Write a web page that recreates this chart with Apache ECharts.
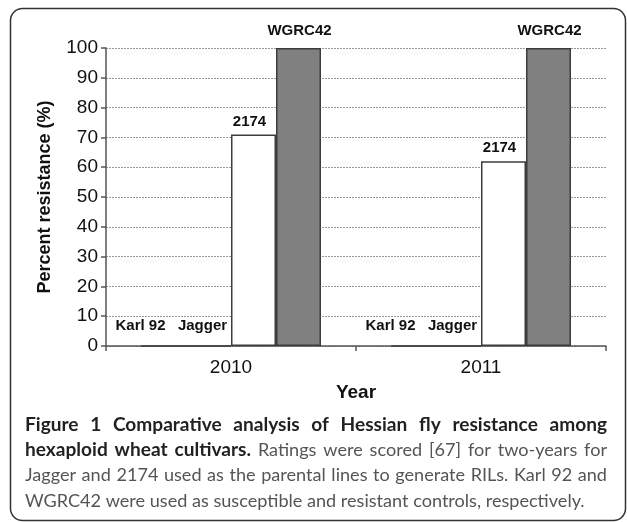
<!DOCTYPE html>
<html>
<head>
<meta charset="utf-8">
<script src="https://cdn.jsdelivr.net/npm/echarts@6/dist/echarts.min.js"></script>
<style>
html,body{margin:0;padding:0;background:#fff;}
#chart{width:627px;height:522px;}
</style>
</head>
<body>
<div id="chart"></div>
<script>
var years = ['2010', '2011'];
var karl92 = [0, 0];
var jagger = [0, 0];
var line2174 = [71, 62];
var wgrc42 = [100, 100];
var yTicks = {min: 0, max: 100, interval: 10};
var yTitle = 'Percent resistance (%)';
var xTitle = 'Year';
var captionLines = [
  [{b: 'Figure 1 Comparative analysis of Hessian fly resistance among'}],
  [{b: 'hexaploid wheat cultivars.'}, {n: 'Ratings were scored [67] for two-years for'}],
  [{n: 'Jagger and 2174 used as the parental lines to generate RILs. Karl 92 and'}],
  [{n: 'WGRC42 were used as susceptible and resistant controls, respectively.'}]
];

/* ---------- caption layout (justified, as in the reference) ---------- */
var capFamily = 'Lato';
var capLeft = 25, capRight = 607, capTop = 425, capStep = 25.3;
var ctx = document.createElement('canvas').getContext('2d');
function fontStr(bold, size) { return (bold ? 'bold ' : 'normal ') + size + 'px ' + capFamily; }
function measure(text, bold, size) { ctx.font = fontStr(bold, size); return ctx.measureText(text).width; }

function tokens(line) {
  var out = [];
  line.forEach(function (p) {
    var bold = !!p.b;
    (p.b || p.n).split(' ').forEach(function (w) { if (w) out.push({t: w, bold: bold}); });
  });
  return out;
}
function natural(toks, sb, sn) {
  var w = 0;
  toks.forEach(function (tk, i) {
    var s = tk.bold ? sb : sn;
    w += measure(tk.t, tk.bold, s);
    if (i > 0) w += measure(' ', tk.bold, s);
  });
  return w;
}
// normal size: last (unjustified) line ends at x = 585
var normSize = 100 * 560 / natural(tokens(captionLines[3]), 100, 100);
// bold size: on the justified 2nd line the bold part ends at x = 251
var t2 = tokens(captionLines[1]);
function boldEnd(sb) {
  var nat = natural(t2, sb, normSize);
  var e = (capRight - capLeft - nat) / (t2.length - 1);
  var wb = natural(t2.filter(function (t) { return t.bold; }), sb, normSize);
  return capLeft + wb + 2 * e;
}
var lo = 10, hi = 26;
for (var k = 0; k < 40; k++) { var mid = (lo + hi) / 2; if (boldEnd(mid) < 251) lo = mid; else hi = mid; }
var boldSize = (lo + hi) / 2;

var captionGraphics = [];
captionLines.forEach(function (line, li) {
  var toks = tokens(line);
  var justify = li < captionLines.length - 1;
  var nat = natural(toks, boldSize, normSize);
  var extra = justify ? (capRight - capLeft - nat) / (toks.length - 1) : 0;
  var x = capLeft;
  toks.forEach(function (tk, i) {
    var s = tk.bold ? boldSize : normSize;
    if (i > 0) x += measure(' ', tk.bold, s) + extra;
    captionGraphics.push({
      type: 'text',
      x: x,
      y: capTop + li * capStep,
      silent: true,
      style: {
        text: tk.t,
        font: fontStr(tk.bold, s),
        fill: tk.bold ? '#231f20' : '#555557',
        verticalAlign: 'middle',
        textVerticalAlign: 'middle',
        align: 'left'
      }
    });
    x += measure(tk.t, tk.bold, s);
  });
});

/* ---------- chart ---------- */
var chart = echarts.init(document.getElementById('chart'), null, {renderer: 'canvas'});
var barBorder = '#3c3c3c';
var sansFont = 'Liberation Sans, Arial, sans-serif';
function mkSeries(name, data, color, labelDist, labelOffset) {
  return {
    name: name,
    type: 'bar',
    data: data,
    barGap: '0%',
    barCategoryGap: '28%',
    itemStyle: {color: color, borderColor: barBorder, borderWidth: 1.5},
    label: {
      show: true,
      position: 'top',
      distance: labelDist,
      offset: labelOffset,
      formatter: name,
      fontFamily: sansFont,
      fontWeight: 'bold',
      fontSize: 15,
      color: '#111'
    },
    emphasis: {disabled: true},
    silent: true
  };
}

var option = {
  animation: false,
  backgroundColor: '#fff',
  grid: {left: 106, top: 48, right: 21, bottom: 176, containLabel: false},
  xAxis: {
    type: 'category',
    data: years,
    name: xTitle,
    nameLocation: 'middle',
    nameGap: 37,
    nameTextStyle: {fontFamily: sansFont, fontWeight: 'bold', fontSize: 19, color: '#111'},
    axisLine: {lineStyle: {color: '#555', width: 1.5}},
    axisTick: {show: true, length: 5, lineStyle: {color: '#555', width: 1.5}},
    axisLabel: {fontFamily: sansFont, fontSize: 19, color: '#111', margin: 12},
    splitLine: {show: false}
  },
  yAxis: {
    type: 'value',
    min: yTicks.min,
    max: yTicks.max,
    interval: yTicks.interval,
    name: yTitle,
    nameLocation: 'middle',
    nameGap: 52,
    nameTextStyle: {fontFamily: sansFont, fontWeight: 'bold', fontSize: 18, color: '#111'},
    axisLine: {show: true, lineStyle: {color: '#555', width: 1.5}},
    axisTick: {show: true, length: 5, lineStyle: {color: '#555', width: 1.5}},
    axisLabel: {fontFamily: sansFont, fontSize: 19, color: '#111', margin: 8},
    splitLine: {show: true, lineStyle: {color: '#999', type: [2, 1], width: 1}}
  },
  series: [
    mkSeries('Karl 92', karl92, '#ffffff', 11.5, [-23, 0]),
    mkSeries('Jagger', jagger, '#ffffff', 11.5, [-6, 0]),
    mkSeries('2174', line2174, '#ffffff', 5.5, [-4, 0]),
    mkSeries('WGRC42', wgrc42, '#808080', 9.5, [1, 0])
  ],
  graphic: [
    {
      type: 'rect',
      shape: {x: 10.5, y: 8.5, width: 615, height: 512, r: 12},
      style: {fill: 'none', stroke: '#333', lineWidth: 1.5},
      silent: true,
      z: -10
    }
  ].concat(captionGraphics)
};
chart.setOption(option);
</script>
</body>
</html>
